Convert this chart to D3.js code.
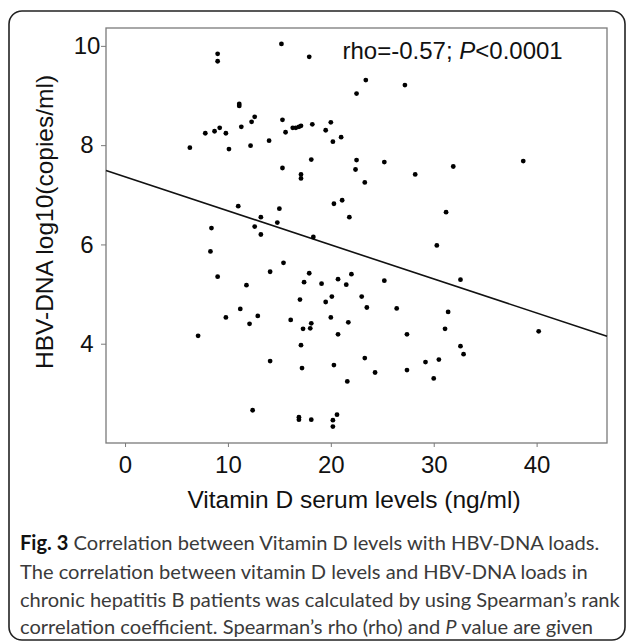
<!DOCTYPE html>
<html>
<head>
<meta charset="utf-8">
<script src="https://cdn.jsdelivr.net/npm/d3@7"></script>
<style>
  body { margin: 0; background: #fff; }
  svg { display: block; }
</style>
</head>
<body>
<div id="chart"></div>
<script>
// values
const vitaminD = [6.3, 7.8, 8.4, 8.7, 9.0, 9.0, 9.2, 9.8, 10.1, 11.0, 11.1, 11.1, 11.3, 12.2, 12.3, 12.6, 12.6, 13.2, 13.2, 14.0,
    14.8, 15.0, 15.2, 15.3, 15.3, 15.6, 16.3, 16.6, 16.9, 17.1, 17.1, 17.1, 17.9, 18.1, 18.2, 18.3, 19.5, 20.0, 20.2, 21.0,
    23.4, 22.5, 27.2, 22.5, 22.4, 25.2, 31.9, 38.7, 28.2, 23.3, 20.3, 21.1, 21.8, 31.2, 30.3, 8.3, 9.0, 11.8, 14.1, 15.4,
    17.9, 17.4, 19.1, 17.0, 19.5, 20.1, 23.0, 23.5, 26.4, 11.2, 9.8, 12.1, 12.9, 16.1, 17.3, 18.1, 18.0, 20.0, 21.7, 7.1,
    17.1, 20.7, 27.4, 31.4, 31.1, 32.6, 32.6, 32.9, 40.2, 14.1, 17.2, 20.3, 23.3, 24.3, 27.4, 29.2, 30.5, 30.0, 21.6, 12.4,
    16.9, 16.9, 18.1, 20.6, 20.2, 20.2, 20.7, 22.0, 21.5, 25.2];
const hbvDna = [7.95, 8.24, 6.33, 8.28, 9.84, 9.69, 8.35, 8.24, 7.92, 6.77, 8.83, 8.79, 8.37, 7.99, 8.47, 8.57, 6.36, 6.55, 6.20, 8.09,
    6.44, 6.72, 10.04, 8.51, 7.54, 8.26, 8.35, 8.35, 8.37, 8.39, 7.41, 7.33, 9.78, 7.71, 8.42, 6.15, 8.30, 8.46, 8.07, 8.16,
    9.31, 9.04, 9.21, 7.70, 7.51, 7.66, 7.57, 7.68, 7.41, 7.25, 6.82, 6.89, 6.55, 6.65, 5.98, 5.86, 5.35, 5.18, 5.45, 5.63,
    5.42, 5.24, 5.21, 4.89, 4.84, 4.95, 4.95, 4.73, 4.71, 4.70, 4.53, 4.40, 4.56, 4.48, 4.30, 4.41, 4.31, 4.53, 4.43, 4.16,
    3.97, 4.19, 4.19, 4.64, 4.30, 5.29, 3.95, 3.79, 4.25, 3.65, 3.51, 3.57, 3.71, 3.42, 3.47, 3.63, 3.68, 3.30, 3.24, 2.66,
    2.52, 2.47, 2.47, 2.57, 2.46, 2.33, 5.30, 5.40, 5.19, 5.27];
const xTicks = [0, 10, 20, 30, 40];
const yTicks = [4, 6, 8, 10];
const fitIntercept = 7.363, fitSlope = -0.0686;

const xTitle = "Vitamin D serum levels (ng/ml)";
const yTitle = "HBV-DNA log10(copies/ml)";
const captionLines = [
    [{ t: "Fig. 3", w: "bold", c: "#111" }, { t: " Correlation between Vitamin D levels with HBV-DNA loads." }],
    [{ t: "The correlation between vitamin D levels and HBV-DNA loads in" }],
    [{ t: "chronic hepatitis B patients was calculated by using Spearman\u2019s rank" }],
    [{ t: "correlation coefficient. Spearman\u2019s rho (rho) and " }, { t: "P", s: "italic" }, { t: " value are given" }]
];

const W = 629, H = 641;
const chartFont = "'Liberation Sans', Arial, sans-serif";

const svg = d3.select("#chart").append("svg")
    .attr("width", W)
    .attr("height", H);

// card outline (bottom edge sits right at the foot of the picture)
svg.append("rect")
    .attr("x", 9).attr("y", 11)
    .attr("width", 616).attr("height", 629)
    .attr("rx", 13).attr("ry", 13)
    .attr("fill", "none")
    .attr("stroke", "#222")
    .attr("stroke-width", 1.6);

const x = d3.scaleLinear().domain([-1.85, 46.84]).range([106, 607]);
const y = d3.scaleLinear().domain([2.0, 10.36]).range([443, 28]);

// plot frame
svg.append("rect")
    .attr("x", 106).attr("y", 28)
    .attr("width", 501).attr("height", 415)
    .attr("fill", "none")
    .attr("stroke", "#7a7a7a")
    .attr("stroke-width", 1.3);

var xaxis = svg.append("g")
    .attr("transform", "translate(0,443)")
    .call(d3.axisBottom(x).tickValues(xTicks).tickSize(4).tickPadding(9).tickFormat(d3.format("d")));
xaxis.select(".domain").remove();
xaxis.selectAll("line").attr("stroke", "#7a7a7a");
xaxis.selectAll("text")
    .attr("fill", "#111")
    .style("font-family", chartFont)
    .style("font-size", "24px");

var yaxis = svg.append("g")
    .attr("transform", "translate(106,0)")
    .call(d3.axisLeft(y).tickValues(yTicks).tickSize(5).tickFormat(d3.format("d")));
yaxis.select(".domain").remove();
yaxis.selectAll("line").attr("stroke", "#7a7a7a");
yaxis.selectAll("text")
    .attr("x", -19)
    .attr("text-anchor", "middle")
    .attr("fill", "#111")
    .style("font-family", chartFont)
    .style("font-size", "24px");

// fit line across the whole frame
const xd = x.domain();
svg.append("line")
    .attr("x1", x(xd[0])).attr("y1", y(fitIntercept + fitSlope * xd[0]))
    .attr("x2", x(xd[1])).attr("y2", y(fitIntercept + fitSlope * xd[1]))
    .attr("stroke", "#111")
    .attr("stroke-width", 1.6);

svg.append("g").selectAll("circle")
    .data(vitaminD.map((v, i) => ({ vd: v, dna: hbvDna[i] })))
    .enter()
    .append("circle")
    .attr("cx", d => x(d.vd))
    .attr("cy", d => y(d.dna))
    .attr("r", 2.4)
    .attr("fill", "#000");

// stat annotation
var stat = svg.append("text")
    .attr("x", 342.5).attr("y", 58.5)
    .style("font-family", chartFont)
    .style("font-size", "24px")
    .attr("fill", "#111");
stat.append("tspan").text("rho=-0.57; ");
stat.append("tspan").style("font-style", "italic").text("P");
stat.append("tspan").text("<0.0001");

// axis titles
svg.append("text")
    .attr("x", 354).attr("y", 508)
    .attr("text-anchor", "middle")
    .style("font-family", chartFont)
    .style("font-size", "24.5px")
    .attr("fill", "#111")
    .text(xTitle);

svg.append("text")
    .attr("transform", "translate(53,222) rotate(-90)")
    .attr("text-anchor", "middle")
    .style("font-family", chartFont)
    .style("font-size", "24.5px")
    .attr("fill", "#111")
    .text(yTitle);

// caption
const capBase = [550, 578.5, 607, 634];
var capRows = captionLines.map((parts, i) => {
    var t = svg.append("text")
        .attr("x", 20).attr("y", capBase[i])
        .style("font-family", "Lato, 'Open Sans', sans-serif")
        .style("font-size", "18px")
        .attr("fill", "#3a3a3a");
    parts.forEach(p => {
        t.append("tspan")
            .style("font-weight", p.w || "normal")
            .style("font-style", p.s || "normal")
            .attr("fill", p.c || null)
            .text(p.t);
    });
    return t;
});
// size so the longest line spans ~600px like the figure
var longest = capRows[2].node().getComputedTextLength();
var fs = 18 * 600 / longest;
capRows.forEach(t => t.style("font-size", fs + "px"));
</script>
</body>
</html>
